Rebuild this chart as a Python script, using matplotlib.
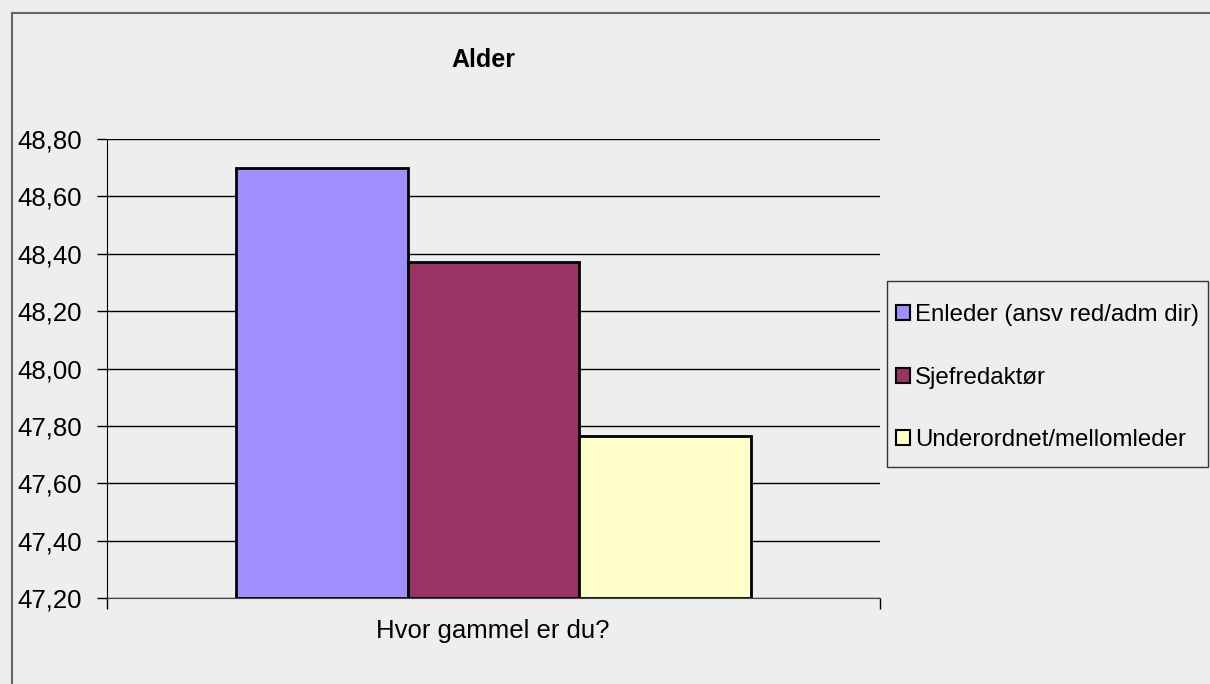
import matplotlib
matplotlib.use("Agg")
import matplotlib.pyplot as plt
from matplotlib.lines import Line2D
from matplotlib.patches import Rectangle
from matplotlib.ticker import FuncFormatter

plt.rcParams['font.family'] = ['Liberation Sans', 'DejaVu Sans']

title = "Alder"
category = "Hvor gammel er du?"
series = ["Enleder (ansv red/adm dir)", "Sjefredaktør", "Underordnet/mellomleder"]
values = [48.70, 48.37, 47.765]
colors = ["#9F8FFF", "#993366", "#FFFFCC"]
yticks = [47.20, 47.40, 47.60, 47.80, 48.00, 48.20, 48.40, 48.60, 48.80]

W, H = 1210, 684
fig = plt.figure(figsize=(W / 100, H / 100), dpi=100, facecolor="#EEEEEE")
ax = fig.add_axes([107 / W, (H - 598) / H, (880 - 107) / W, (598 - 139) / H])
ax.set_facecolor("#EEEEEE")

width = 0.2225
offsets = [-width, 0, width]
base = yticks[0]
for s, v, c, o in zip(series, values, colors, offsets):
    ax.bar(o, v - base, bottom=base, width=width, color=c, edgecolor="black",
           linewidth=2, label=s, zorder=3)

ax.set_xlim(-0.5, 0.5)
ax.set_ylim(yticks[0], yticks[-1])
ax.set_yticks(yticks)
ax.yaxis.set_major_formatter(FuncFormatter(lambda v, p: f"{v:.2f}".replace(".", ",")))
ax.grid(axis="y", color="black", linewidth=1, zorder=0)
ax.set_axisbelow(True)
ax.tick_params(axis="y", length=7, width=1, pad=11, labelsize=18.5, color="black")
ax.set_xticks([-0.5, 0.5])
ax.set_xticklabels(["", ""])
ax.tick_params(axis="x", length=8, width=1, direction="out", color="black")
for sp in ["top", "right"]:
    ax.spines[sp].set_visible(False)
ax.spines["left"].set_color("black")
ax.spines["bottom"].set_color("#444444")

fig.text(483 / W, 1 - 67 / H, title, ha="center", va="baseline", fontsize=18,
         fontweight="bold")
fig.text(493 / W, 1 - 638 / H, category, ha="center", va="baseline", fontsize=18.5)

# legend frame
fig.add_artist(Rectangle((887 / W, 1 - 467 / H), (1208 - 887) / W, (467 - 281) / H,
                         transform=fig.transFigure, facecolor="#EEEEEE",
                         edgecolor="#333333", linewidth=1, zorder=1))
leg = fig.legend(loc="upper left", bbox_to_anchor=(887.6 / W, 1 - 296 / H),
                 fontsize=17.3, frameon=False, handlelength=0.58, handleheight=0.58,
                 handletextpad=0.2, labelspacing=1.675, borderpad=0.35,
                 borderaxespad=0)
leg.set_zorder(2)
for h in leg.legend_handles:
    h.set_linewidth(1.5)

fig.add_artist(Line2D([12 / W, 12 / W], [0, 1 - 13 / H], color="#666666",
                      linewidth=1.5, transform=fig.transFigure))
fig.add_artist(Line2D([12 / W, 1], [1 - 13 / H, 1 - 13 / H], color="#666666",
                      linewidth=1.5, transform=fig.transFigure))

fig.savefig("out.png", dpi=100, facecolor=fig.get_facecolor())
